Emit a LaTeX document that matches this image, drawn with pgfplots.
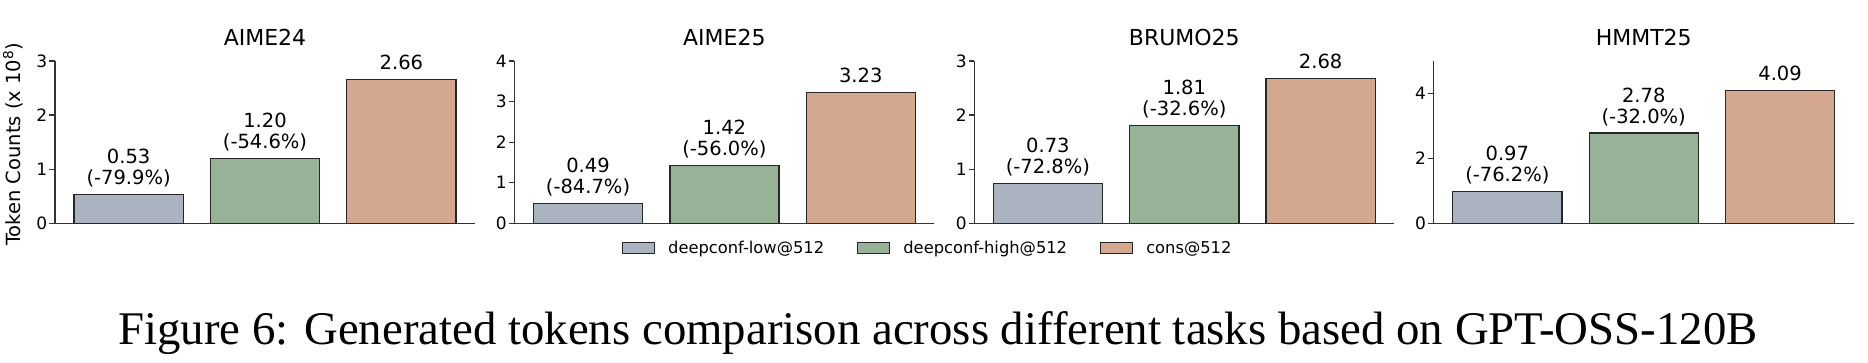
\documentclass[border=0pt]{standalone}
\usepackage{pgfplots}
\pgfplotsset{compat=1.18}
\usepackage{fontspec}
\setmainfont{DejaVu Sans}
\newfontfamily\capfont{Liberation Serif}
\definecolor{clow}{RGB}{170,179,191}
\definecolor{chigh}{RGB}{152,178,152}
\definecolor{ccons}{RGB}{212,167,143}
\pgfplotsset{
 panel/.style={
  scale only axis, width=420pt, height=162.3pt,
  xmin=-0.54, xmax=2.54, ymin=0,
  axis x line*=bottom, axis y line*=left,
  axis line style={-, line width=1.3pt, black!80},
  xtick=\empty, tick align=outside, major tick length=5.5pt,
  every tick/.style={black!80, line width=1.3pt},
  tick label style={font=\fontsize{17}{20}\selectfont},
  /pgf/number format/assume math mode=true,
  yticklabel style={inner sep=0pt, xshift=-2pt},
  title style={at={(axis description cs:0.5,1)}, font=\fontsize{22}{26}\selectfont, anchor=base, yshift=9.7pt},
  clip=false,
  every node near coord/.append style={font=\fontsize{19.5}{21}\selectfont, align=center, anchor=south, inner sep=0pt, text depth=0pt, yshift=9.3pt, text=black},
 },
 mybar/.style={ybar, bar width=0.8, bar shift=0pt, line width=1.3pt, draw=black!85, fill=#1,
   legend image code/.code={\draw[fill=#1, draw=black!85, line width=1.2pt] (0pt,-5.5pt) rectangle (32pt,5.5pt);}},
}
\begin{document}
\begin{tikzpicture}
\useasboundingbox (0pt,0pt) rectangle (1868pt,362pt);
% AIME24
\begin{axis}[panel, at={(55pt,138.7pt)}, anchor=south west, ymax=3, ytick={0,1,2,3},
  title={AIME24},
  ylabel={Token Counts (x 10\textsuperscript{8})},
  ylabel style={at={(axis description cs:-0.1,0.486)}, anchor=center, font=\fontsize{19.5}{23}\selectfont}]
\addplot[mybar=clow, nodes near coords={0.53\\(-79.9\%)}] coordinates {(0,0.53)};
\addplot[mybar=chigh, nodes near coords={1.20\\(-54.6\%)}] coordinates {(1,1.20)};
\addplot[mybar=ccons, nodes near coords={2.66}] coordinates {(2,2.66)};
\end{axis}
% AIME25
\begin{axis}[panel, at={(514.4pt,138.7pt)}, anchor=south west, ymax=4, ytick={0,1,2,3,4},
  title={AIME25},
  legend columns=3,
  legend style={at={(0.9817,-0.151)}, anchor=center, draw=none, fill=none,
    font=\fontsize{16.3}{19}\selectfont, column sep=13pt,
    nodes={inner sep=0pt},
    /tikz/every even column/.append style={column sep=33pt}}]
\addplot[mybar=clow, nodes near coords={0.49\\(-84.7\%)}] coordinates {(0,0.49)};
\addplot[mybar=chigh, nodes near coords={1.42\\(-56.0\%)}] coordinates {(1,1.42)};
\addplot[mybar=ccons, nodes near coords={3.23}] coordinates {(2,3.23)};
\legend{deepconf-low@512, deepconf-high@512, cons@512}
\end{axis}
% BRUMO25
\begin{axis}[panel, at={(974.3pt,138.7pt)}, anchor=south west, ymax=3, ytick={0,1,2,3},
  title={BRUMO25}]
\addplot[mybar=clow, nodes near coords={0.73\\(-72.8\%)}] coordinates {(0,0.73)};
\addplot[mybar=chigh, nodes near coords={1.81\\(-32.6\%)}] coordinates {(1,1.81)};
\addplot[mybar=ccons, nodes near coords={2.68}] coordinates {(2,2.68)};
\end{axis}
% HMMT25
\begin{axis}[panel, at={(1433.7pt,138.7pt)}, anchor=south west, ymax=5, ytick={0,2,4},
  title={HMMT25}]
\addplot[mybar=clow, nodes near coords={0.97\\(-76.2\%)}] coordinates {(0,0.97)};
\addplot[mybar=chigh, nodes near coords={2.78\\(-32.0\%)}] coordinates {(1,2.78)};
\addplot[mybar=ccons, nodes near coords={4.09}] coordinates {(2,4.09)};
\end{axis}
\node[font=\capfont\fontsize{46.8}{50}\selectfont, anchor=base, inner sep=0pt] at (938pt,18pt)
  {Figure 6: Generated tokens comparison across different tasks based on GPT-OSS-120B};
\end{tikzpicture}
\end{document}
